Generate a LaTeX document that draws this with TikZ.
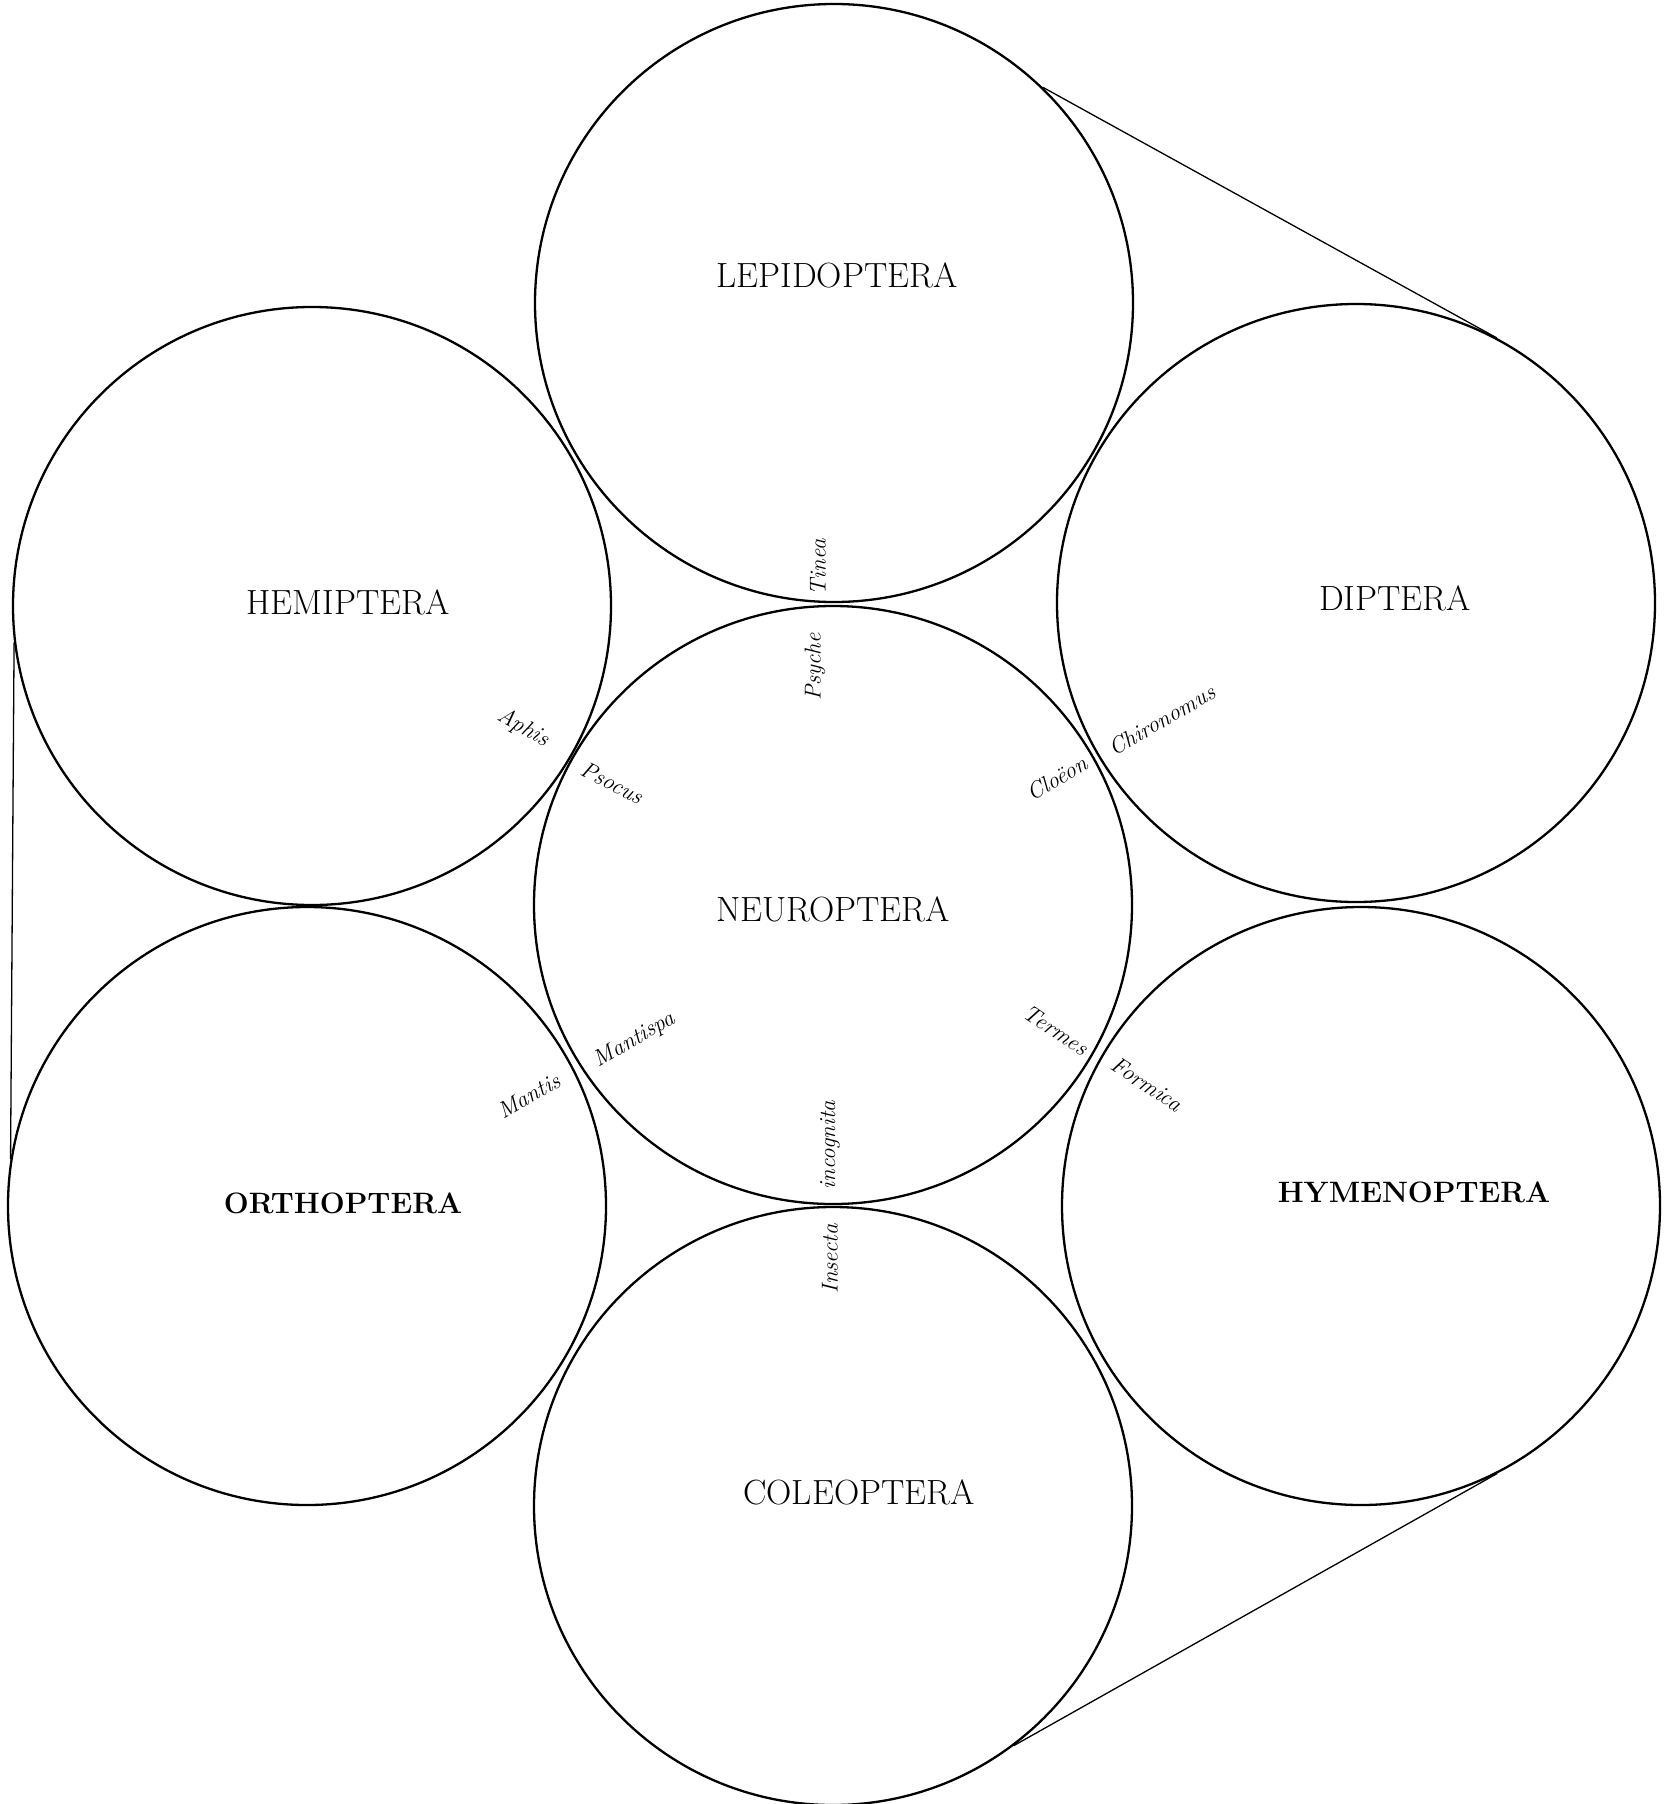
\documentclass[tikz,border=0pt]{standalone}
\begin{document}
\begin{tikzpicture}[x=1pt,y=-1pt,
    insectorder/.style={circle,draw,line width=2.3pt,minimum size=598pt,inner sep=0pt},
    ordername/.style={font=\fontsize{35}{35}\selectfont},
    ordernamebf/.style={font=\fontsize{29.5}{29.5}\selectfont\bfseries},
    genus/.style={font=\fontsize{23}{23}\selectfont\itshape,inner sep=0pt}]
  \useasboundingbox (0,0) rectangle (1678,1804);
  % the seven orders
  \node[insectorder] (neu) at (833,905) {};
  \node[insectorder] (lep) at (834,303) {};
  \node[insectorder] (col) at (833,1506) {};
  \node[insectorder] (hem) at (312,606) {};
  \node[insectorder] (dip) at (1356,603) {};
  \node[insectorder] (ort) at (307,1206) {};
  \node[insectorder] (hym) at (1361,1206) {};
  % outer lines
  \draw[line width=1.3pt] (lep.46) -- (dip.62);
  \draw[line width=1.3pt] (hem.187) -- (ort.171);
  \draw[line width=1.3pt] (hym.-63) -- (col.-53);
  % names
  \node[ordername] (neuname) at (833,909) {NEUROPTERA};
  \node[ordername] (lepname) at (837,275) {LEPIDOPTERA};
  \node[ordername] (colname) at (859,1492) {COLEOPTERA};
  \node[ordername] (hemname) at (348,602) {HEMIPTERA};
  \node[ordername] (dipname) at (1395,598) {DIPTERA};
  \node[ordernamebf] (ortname) at (343,1203) {ORTHOPTERA};
  \node[ordernamebf] (hymname) at (1414,1192) {HYMENOPTERA};
  % genera where the circles meet
  \node[genus,rotate=90] (tinea) at (818,567) {Tinea};
  \node[genus,rotate=90] (psyche) at (815,667) {Psyche};
  \node[genus,rotate=-29] (aphis) at (523,728) {Aphis};
  \node[genus,rotate=-27] (psocus) at (612,783) {Psocus};
  \node[genus,rotate=30] (cloeon) at (1057,778) {Clo\"eon};
  \node[genus,rotate=30] (chiron) at (1162,720) {Chironomus};
  \node[genus,rotate=30] (mantispa) at (635,1040) {Mantispa};
  \node[genus,rotate=30] (mantis) at (529,1096) {Mantis};
  \node[genus,rotate=-34] (termes) at (1056,1030) {Termes};
  \node[genus,rotate=-33] (formica) at (1147,1084) {Formica};
  \node[genus,rotate=90] (incog) at (830,1145) {incognita};
  \node[genus,rotate=90] (insecta) at (830,1259) {Insecta};
\end{tikzpicture}
\end{document}
